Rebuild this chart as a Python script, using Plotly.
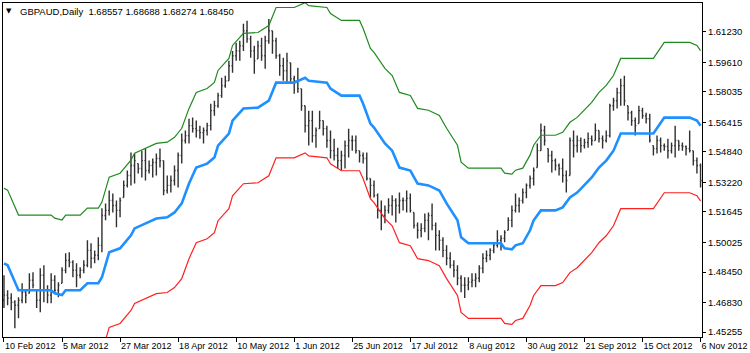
import pandas as pd
import plotly.graph_objects as go

# ---- categories: daily bars (business days) ----
dates = pd.bdate_range("2012-02-10", "2012-11-06")
bar_idx = list(range(len(dates)))

# ---- OHLC prices, in units of 0.0001 ----
open_e4 = [
    14695, 14722, 14706, 14684, 14668, 14695, 14737, 14732, 14801, 14748,
    14695, 14828, 14748, 14722, 14801, 14748, 14785, 14854, 14907, 14897,
    14854, 14828, 14854, 14881, 14960, 14918, 14934, 14987, 15146, 15173,
    15226, 15199, 15173, 15242, 15306, 15359, 15412, 15422, 15396, 15438,
    15385, 15412, 15428, 15449, 15438, 15279, 15306, 15332, 15385, 15465,
    15545, 15571, 15624, 15608, 15598, 15587, 15598, 15624, 15704, 15730,
    15784, 15837, 15863, 15943, 15996, 16022, 16049, 16129, 16086, 16022,
    15980, 16049, 15996, 16076, 16129, 16076, 15996, 15943, 15916, 15959,
    15874, 15863, 15821, 15730, 15624, 15651, 15571, 15608, 15651, 15608,
    15545, 15491, 15465, 15438, 15465, 15518, 15545, 15545, 15491, 15465,
    15449, 15343, 15306, 15253, 15173, 15146, 15173, 15199, 15226, 15199,
    15226, 15226, 15237, 15162, 15093, 15067, 15077, 15120, 15146, 15093,
    15040, 15014, 14960, 14918, 14881, 14854, 14812, 14775, 14775, 14791,
    14801, 14812, 14865, 14918, 14934, 14960, 14987, 15014, 15024, 15067,
    15120, 15173, 15199, 15226, 15268, 15306, 15343, 15401, 15491, 15598,
    15502, 15465, 15438, 15412, 15396, 15359, 15359, 15545, 15518, 15545,
    15518, 15534, 15555, 15545, 15598, 15555, 15545, 15571, 15730, 15757,
    15799, 15837, 15730, 15693, 15651, 15635, 15704, 15677, 15661, 15518,
    15502, 15545, 15518, 15513, 15491, 15518, 15545, 15518, 15513, 15502,
    15491, 15438, 15412,
]
high_e4 = [
    14828, 14748, 14732, 14695, 14711, 14785, 14748, 14838, 14844, 14748,
    14865, 14881, 14775, 14838, 14828, 14791, 14870, 14945, 14950, 14907,
    14891, 14870, 14907, 15014, 14998, 14960, 15030, 15184, 15210, 15279,
    15263, 15226, 15242, 15332, 15385, 15481, 15476, 15422, 15491, 15502,
    15438, 15449, 15476, 15502, 15438, 15359, 15359, 15412, 15481, 15582,
    15598, 15661, 15667, 15651, 15624, 15614, 15640, 15741, 15757, 15799,
    15879, 15890, 15969, 16022, 16065, 16076, 16166, 16182, 16102, 16049,
    16076, 16092, 16102, 16192, 16129, 16092, 16007, 15985, 16012, 15959,
    15890, 15932, 15821, 15730, 15704, 15704, 15614, 15704, 15651, 15624,
    15598, 15555, 15507, 15491, 15545, 15608, 15571, 15571, 15491, 15481,
    15481, 15343, 15332, 15263, 15226, 15199, 15237, 15253, 15237, 15268,
    15242, 15279, 15263, 15162, 15109, 15104, 15157, 15162, 15210, 15109,
    15067, 15030, 14987, 14950, 14907, 14881, 14828, 14817, 14817, 14838,
    14838, 14881, 14945, 14960, 14971, 15003, 15067, 15040, 15067, 15136,
    15199, 15263, 15242, 15290, 15316, 15359, 15401, 15529, 15635, 15624,
    15502, 15491, 15449, 15422, 15449, 15385, 15561, 15598, 15571, 15561,
    15555, 15587, 15571, 15635, 15598, 15571, 15598, 15741, 15773, 15826,
    15874, 15890, 15730, 15704, 15667, 15730, 15720, 15693, 15688, 15518,
    15571, 15561, 15529, 15555, 15534, 15624, 15545, 15534, 15518, 15598,
    15491, 15454, 15422,
]
low_e4 = [
    14653, 14668, 14642, 14546, 14599, 14679, 14679, 14732, 14759, 14653,
    14631, 14684, 14679, 14679, 14732, 14711, 14785, 14838, 14870, 14817,
    14764, 14812, 14838, 14870, 14865, 14891, 14907, 14950, 15120, 15146,
    15162, 15083, 15136, 15242, 15295, 15306, 15316, 15369, 15348, 15332,
    15369, 15348, 15359, 15401, 15253, 15263, 15268, 15306, 15295, 15422,
    15529, 15529, 15587, 15561, 15555, 15529, 15571, 15598, 15677, 15720,
    15773, 15826, 15863, 15906, 15969, 15969, 16022, 16065, 15985, 15900,
    15980, 15969, 15927, 16060, 16007, 15980, 15890, 15863, 15853, 15853,
    15794, 15799, 15704, 15587, 15518, 15534, 15507, 15608, 15571, 15507,
    15449, 15438, 15396, 15385, 15396, 15454, 15491, 15476, 15428, 15422,
    15332, 15242, 15242, 15130, 15067, 15104, 15157, 15146, 15109, 15157,
    15173, 15162, 15162, 15077, 15024, 15030, 15056, 15014, 15067, 14960,
    14960, 14923, 14881, 14865, 14817, 14775, 14737, 14706, 14748, 14764,
    14764, 14791, 14838, 14897, 14907, 14945, 14976, 14960, 15003, 15067,
    15083, 15162, 15162, 15210, 15237, 15290, 15306, 15401, 15491, 15518,
    15428, 15375, 15385, 15359, 15322, 15268, 15359, 15454, 15481, 15481,
    15502, 15507, 15518, 15545, 15534, 15502, 15534, 15561, 15704, 15715,
    15730, 15730, 15651, 15624, 15571, 15635, 15661, 15635, 15534, 15465,
    15476, 15481, 15491, 15449, 15476, 15454, 15491, 15491, 15465, 15481,
    15412, 15369, 15295,
]
close_e4 = [
    14722, 14706, 14684, 14668, 14695, 14737, 14722, 14801, 14775, 14695,
    14828, 14748, 14722, 14801, 14748, 14775, 14854, 14907, 14897, 14854,
    14828, 14854, 14881, 14960, 14918, 14934, 14987, 15146, 15173, 15226,
    15199, 15173, 15226, 15306, 15359, 15412, 15438, 15396, 15438, 15385,
    15412, 15428, 15449, 15438, 15279, 15306, 15332, 15385, 15465, 15545,
    15571, 15624, 15608, 15598, 15587, 15598, 15624, 15704, 15730, 15784,
    15837, 15863, 15943, 15996, 16022, 16049, 16129, 16086, 16022, 15969,
    16049, 15996, 16076, 16129, 16076, 15996, 15943, 15916, 15969, 15874,
    15863, 15821, 15730, 15624, 15651, 15571, 15598, 15651, 15608, 15545,
    15491, 15465, 15438, 15465, 15518, 15545, 15545, 15491, 15465, 15449,
    15343, 15306, 15253, 15173, 15146, 15173, 15199, 15226, 15199, 15226,
    15226, 15237, 15173, 15093, 15067, 15077, 15120, 15146, 15093, 15040,
    15014, 14960, 14918, 14881, 14854, 14812, 14775, 14775, 14791, 14801,
    14812, 14865, 14918, 14934, 14960, 14987, 15014, 15024, 15056, 15120,
    15173, 15199, 15226, 15268, 15306, 15343, 15385, 15491, 15598, 15545,
    15465, 15438, 15412, 15396, 15359, 15332, 15545, 15518, 15545, 15518,
    15534, 15555, 15545, 15598, 15555, 15545, 15571, 15730, 15757, 15799,
    15837, 15757, 15693, 15651, 15624, 15704, 15677, 15661, 15545, 15502,
    15545, 15518, 15513, 15491, 15518, 15545, 15518, 15513, 15502, 15491,
    15438, 15412, 15332,
]

# ---- channel lines (bar index where the line bends, price x 1e4) ----
chan_idx = [
    0, 1, 4, 13, 14, 16, 17, 21, 23, 26,
    27, 28, 29, 32, 35, 36, 39, 42, 45, 47,
    49, 50, 51, 53, 56, 58, 59, 62, 63, 66,
    70, 73, 75, 80, 83, 84, 89, 90, 93, 98,
    99, 101, 102, 105, 107, 109, 112, 114, 117, 120,
    122, 125, 126, 128, 137, 138, 140, 141, 143, 145,
    146, 148, 152, 154, 156, 158, 160, 162, 164, 166,
    168, 170, 179, 181, 182, 189, 191, 192,
]
mid_e4 = [
    14891, 14881, 14748, 14748, 14732, 14722, 14748, 14748, 14785, 14785,
    14817, 14891, 14950, 14971, 15040, 15077, 15104, 15130, 15136, 15162,
    15210, 15263, 15316, 15401, 15422, 15454, 15518, 15582, 15651, 15715,
    15720, 15757, 15853, 15853, 15879, 15863, 15853, 15821, 15784, 15784,
    15741, 15635, 15614, 15529, 15491, 15401, 15385, 15316, 15306, 15279,
    15210, 15120, 15030, 14998, 14998, 14971, 14966, 14987, 14998, 15067,
    15120, 15173, 15173, 15189, 15242, 15268, 15306, 15348, 15401, 15438,
    15491, 15582, 15582, 15635, 15667, 15667, 15651, 15624,
]
upper_e4 = [
    15291, 15281, 15148, 15148, 15132, 15122, 15148, 15148, 15185, 15185,
    15217, 15291, 15350, 15371, 15440, 15477, 15504, 15530, 15536, 15562,
    15610, 15663, 15716, 15801, 15822, 15854, 15918, 15982, 16051, 16115,
    16120, 16157, 16253, 16253, 16279, 16263, 16253, 16221, 16184, 16184,
    16141, 16035, 16014, 15929, 15891, 15801, 15785, 15716, 15706, 15679,
    15610, 15520, 15430, 15398, 15398, 15371, 15366, 15387, 15398, 15467,
    15520, 15573, 15573, 15589, 15642, 15668, 15706, 15748, 15801, 15838,
    15891, 15982, 15982, 16035, 16067, 16067, 16051, 16024,
]
lower_e4 = [
    14491, 14481, 14348, 14348, 14332, 14322, 14348, 14348, 14385, 14385,
    14417, 14491, 14550, 14571, 14640, 14677, 14704, 14730, 14736, 14762,
    14810, 14863, 14916, 15001, 15022, 15054, 15118, 15182, 15251, 15315,
    15320, 15357, 15453, 15453, 15479, 15463, 15453, 15421, 15384, 15384,
    15341, 15235, 15214, 15129, 15091, 15001, 14985, 14916, 14906, 14879,
    14810, 14720, 14630, 14598, 14598, 14571, 14566, 14587, 14598, 14667,
    14720, 14773, 14773, 14789, 14842, 14868, 14906, 14948, 15001, 15038,
    15091, 15182, 15182, 15235, 15267, 15267, 15251, 15224,
]

# ---- axis ticks ----
ytick_labels = ["1.61230", "1.59610", "1.58035", "1.56415", "1.54840", "1.53220",
                "1.51645", "1.50025", "1.48450", "1.46830", "1.45255"]
xtick_step = 16
header_text = "GBPAUD,Daily  1.68557 1.68688 1.68274 1.68450"

sc = 1e-4
def scale(a):
    return [v * sc for v in a]

xtick_vals = bar_idx[::xtick_step]
xtick_text = [f"{d.day} {d.strftime('%b %Y')}" for d in dates[::xtick_step]]

FONT = "Liberation Sans"

fig = go.Figure()
fig.add_trace(go.Ohlc(
    x=bar_idx, open=scale(open_e4), high=scale(high_e4),
    low=scale(low_e4), close=scale(close_e4),
    increasing=dict(line=dict(color="#303030", width=1.4)),
    decreasing=dict(line=dict(color="#303030", width=1.4)),
    tickwidth=0.3, hoverinfo="skip", showlegend=False,
))
fig.add_trace(go.Scatter(x=chan_idx, y=scale(upper_e4), mode="lines",
                         line=dict(color="#1f8a1f", width=1.2),
                         hoverinfo="skip", showlegend=False))
fig.add_trace(go.Scatter(x=chan_idx, y=scale(lower_e4), mode="lines",
                         line=dict(color="#ff2020", width=1.2),
                         hoverinfo="skip", showlegend=False))
fig.add_trace(go.Scatter(x=chan_idx, y=scale(mid_e4), mode="lines",
                         line=dict(color="#1e90ff", width=2.6),
                         hoverinfo="skip", showlegend=False))

fig.update_layout(
    width=750, height=353,
    margin=dict(l=2, r=39, t=2, b=16),
    paper_bgcolor="white", plot_bgcolor="white",
    font=dict(family=FONT, size=9, color="black"),
    xaxis=dict(
        range=[-0.27, 192.4], rangeslider=dict(visible=False),
        showgrid=False, zeroline=False,
        showline=True, mirror=True, linecolor="black", linewidth=1,
        tickmode="array", tickvals=xtick_vals, ticktext=xtick_text,
        ticks="outside", ticklen=4, tickcolor="black", tickangle=0,
        ticklabelposition="outside right", ticklabeloverflow="allow",
        tickfont=dict(family=FONT, size=9, color="black"),
    ),
    yaxis=dict(
        range=[1.4499, 1.6277], side="right",
        showgrid=False, zeroline=False,
        showline=True, mirror=True, linecolor="black", linewidth=1,
        tickmode="array", tickvals=[float(t) for t in ytick_labels], ticktext=ytick_labels,
        ticks="outside", ticklen=3, tickcolor="black",
        tickfont=dict(family=FONT, size=9.5, color="black"),
    ),
    annotations=[
        dict(text="▼", xref="paper", yref="paper", x=0.0085, y=0.975,
             xanchor="center", yanchor="middle", showarrow=False,
             font=dict(family="DejaVu Sans", size=7, color="black")),
        dict(text=header_text, xref="paper", yref="paper", x=0.021, y=0.975,
             xanchor="left", yanchor="middle", showarrow=False,
             font=dict(family=FONT, size=9.5, color="black")),
    ],
)

fig.write_html("out.html")
